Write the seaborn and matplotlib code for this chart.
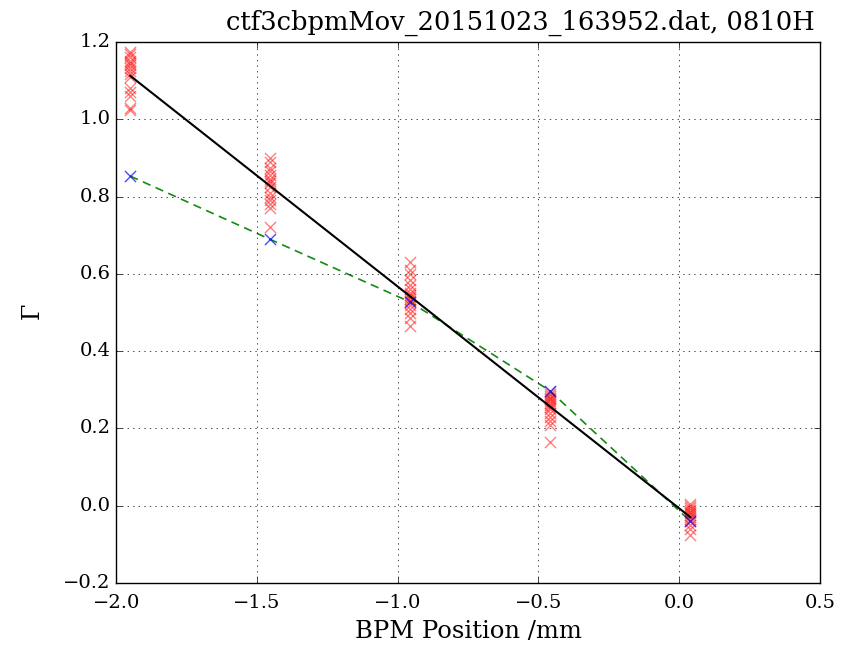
import numpy as np
import pandas as pd
import matplotlib
matplotlib.use("Agg")
import matplotlib.pyplot as plt
import seaborn as sns

# BPM positions (mm) of the five scan steps
positions = [-1.95, -1.455, -0.955, -0.46, 0.04]

# Individual shot measurements at each step
shots_1 = [1.175, 1.168, 1.16, 1.152, 1.145, 1.14, 1.133, 1.125, 1.118, 1.11,
           1.08, 1.07, 1.06, 1.03, 1.025]
shots_2 = [0.90, 0.89, 0.875, 0.865, 0.855, 0.845, 0.84, 0.835, 0.825, 0.81,
           0.80, 0.79, 0.78, 0.77, 0.72]
shots_3 = [0.63, 0.61, 0.60, 0.585, 0.57, 0.56, 0.55, 0.545, 0.54, 0.535,
           0.53, 0.52, 0.51, 0.50, 0.485, 0.465]
shots_4 = [0.295, 0.29, 0.285, 0.28, 0.275, 0.27, 0.265, 0.26, 0.255, 0.25,
           0.24, 0.23, 0.22, 0.21, 0.165]
shots_5 = [0.005, 0.0, -0.005, -0.01, -0.015, -0.02, -0.025, -0.03, -0.035,
           -0.04, -0.05, -0.06, -0.075]

# Reference measurement per step
reference = [0.853, 0.69, 0.527, 0.298, -0.04]

x_ticks = [-2.0, -1.5, -1.0, -0.5, 0.0, 0.5]
y_ticks = [-0.2, 0.0, 0.2, 0.4, 0.6, 0.8, 1.0, 1.2]

shots = [shots_1, shots_2, shots_3, shots_4, shots_5]
shot_df = pd.DataFrame({
    "x": np.concatenate([[p] * len(s) for p, s in zip(positions, shots)]),
    "y": np.concatenate(shots),
})
ref_df = pd.DataFrame({"x": positions, "y": reference})

# Linear fit through all shots
slope, intercept = np.polyfit(shot_df["x"], shot_df["y"], 1)
fit_x = np.array([min(positions), max(positions)])
fit_df = pd.DataFrame({"x": fit_x, "y": slope * fit_x + intercept})

plt.style.use("classic")
plt.rcParams["font.family"] = ["DejaVu Serif"]
plt.rcParams["mathtext.fontset"] = "dejavuserif"

fig = plt.figure(figsize=(8.54, 6.46), dpi=100, facecolor="white")
ax = fig.add_axes([0.136, 0.0975, 0.824, 0.8375])

sns.scatterplot(data=shot_df, x="x", y="y", marker="x", color="red",
                alpha=0.5, s=65, linewidth=1, ax=ax, zorder=3)
sns.scatterplot(data=ref_df, x="x", y="y", marker="x", color="blue",
                alpha=0.7, s=65, linewidth=1, ax=ax, zorder=3)
sns.lineplot(data=ref_df, x="x", y="y", color="#138a13", linestyle=(0, (6, 4)),
             linewidth=1.2, ax=ax, errorbar=None, zorder=2)
sns.lineplot(data=fit_df, x="x", y="y", color="black", linewidth=1.5,
             ax=ax, errorbar=None, zorder=4)

ax.set_xlim(-2.0, 0.5)
ax.set_ylim(-0.2, 1.2)
ax.set_xticks(x_ticks)
ax.set_yticks(y_ticks)
ax.tick_params(labelsize=14)
ax.tick_params(axis="x", pad=8)
ax.grid(True)
ax.set_title("ctf3cbpmMov_20151023_163952.dat, 0810H", fontsize=18.5,
             x=0.574, pad=9)
ax.set_xlabel("BPM Position /mm", fontsize=17.5, labelpad=6)
ax.set_ylabel(r"$\Gamma$", fontsize=17, labelpad=13)

fig.savefig("out.png", dpi=100, facecolor="white")
